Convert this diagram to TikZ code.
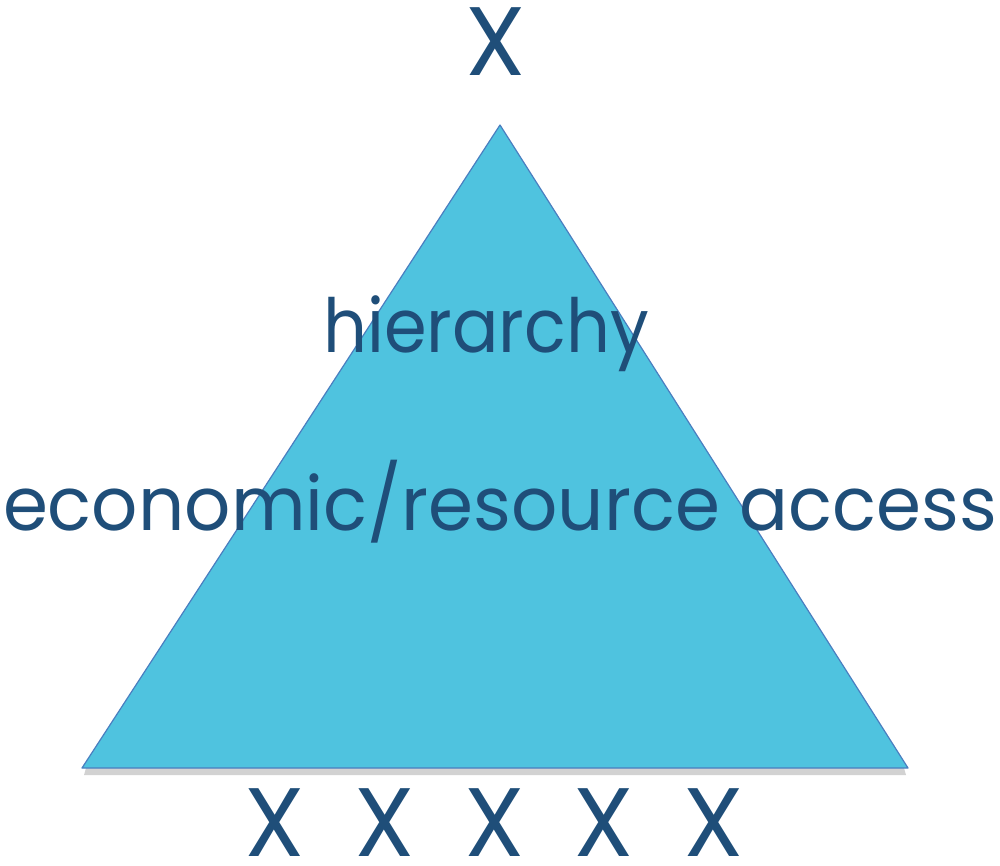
\documentclass[tikz,border=0pt]{standalone}
\usepackage{fontspec}
\setmainfont{Poppins}
\definecolor{tri}{HTML}{4FC3DF}
\definecolor{triedge}{HTML}{4A7EC0}
\definecolor{txt}{HTML}{1F4E79}
\begin{document}
\begin{tikzpicture}[x=0.75pt,y=-0.75pt,
  lbl/.style={text=txt,inner sep=0pt,anchor=base,font=\fontsize{56}{60}\selectfont},
  xlbl/.style={text=txt,inner sep=0pt,anchor=base,font=\fontsize{73}{75}\selectfont}]
\useasboundingbox (0,0) rectangle (1000,865);
\coordinate (A) at (500,125);
\coordinate (B) at (82,768);
\coordinate (C) at (908,768);
\fill[black!35,opacity=0.5] (86,768) -- (904,768) -- (906,775) -- (84,775) -- cycle;
\draw[fill=tri,draw=triedge,line width=0.9pt,line join=round] (A) -- (B) -- (C) -- cycle;
\node[xlbl] (top) at (496,75) {X};
\node[lbl,xscale=0.92] (h) at (486,352) {hierarchy};
\node[lbl,xscale=0.97] (e) at (500,530) {economic/resource access};
\node[xlbl] (x1) at (275,856) {X};
\node[xlbl] (x2) at (385,856) {X};
\node[xlbl] (x3) at (495,856) {X};
\node[xlbl] (x4) at (604,856) {X};
\node[xlbl] (x5) at (714,856) {X};
\end{tikzpicture}
\end{document}
